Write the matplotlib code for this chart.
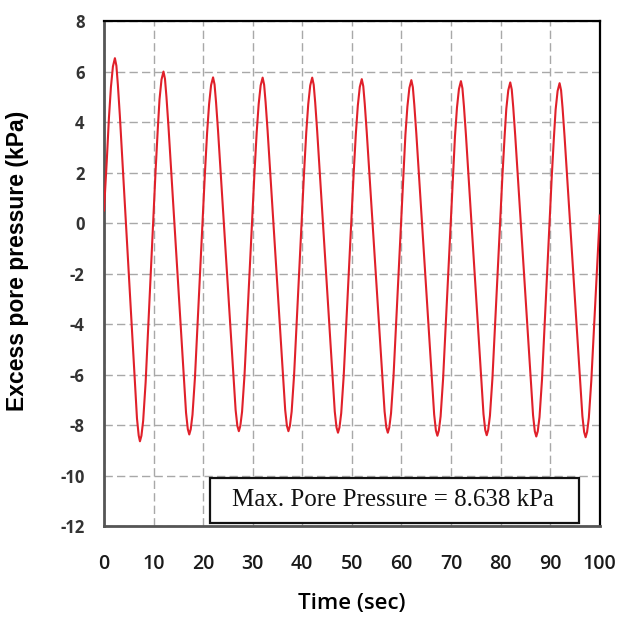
import matplotlib
matplotlib.use("Agg")
import matplotlib.pyplot as plt
from matplotlib.patches import Rectangle

plt.rcParams["axes.unicode_minus"] = False

# time (sec) and excess pore pressure (kPa)
time_sec = [
    0.0, 0.55, 1.0, 1.4, 1.8, 2.2,
    2.5, 2.8, 3.2, 6.15, 6.65, 7.0, 7.25,
    7.55, 7.9, 8.4, 10.4, 10.85, 11.2, 11.6, 12.0,
    12.3, 12.6, 13.0, 16.05, 16.55, 16.9, 17.2,
    17.5, 17.85, 18.35, 20.35, 20.8, 21.2, 21.6, 22.0,
    22.3, 22.6, 23.0, 26.05, 26.55, 26.9, 27.2,
    27.5, 27.85, 28.35, 30.35, 30.8, 31.2, 31.6, 32.0,
    32.3, 32.6, 33.0, 36.05, 36.55, 36.9, 37.2,
    37.5, 37.85, 38.35, 40.35, 40.8, 41.2, 41.6, 42.0,
    42.3, 42.6, 43.0, 46.05, 46.55, 46.9, 47.2,
    47.5, 47.85, 48.35, 50.35, 50.8, 51.2, 51.6, 52.0,
    52.3, 52.6, 53.0, 56.1, 56.6, 56.95, 57.25,
    57.55, 57.9, 58.4, 60.4, 60.8, 61.2, 61.6, 62.0,
    62.3, 62.6, 63.0, 66.1, 66.6, 66.95, 67.25,
    67.55, 67.9, 68.4, 70.4, 70.8, 71.2, 71.6, 72.0,
    72.3, 72.6, 73.0, 76.05, 76.55, 76.9, 77.2,
    77.5, 77.85, 78.35, 80.35, 80.8, 81.15, 81.55, 81.95,
    82.25, 82.55, 82.95, 86.05, 86.55, 86.9, 87.2,
    87.5, 87.85, 88.35, 90.3, 90.75, 91.1, 91.5, 91.9,
    92.2, 92.5, 92.9, 96.0, 96.5, 96.85, 97.15,
    97.45, 97.8, 98.3, 100.0,
]
pore_kpa = [
    0.5, 2.43, 4.18, 5.39, 6.20, 6.53,
    6.23, 5.47, 4.25, -6.06, -7.73, -8.41, -8.64,
    -8.42, -7.83, -6.30, 2.05, 3.73, 4.90, 5.68, 6.00,
    5.71, 4.99, 3.84, -5.93, -7.51, -8.15, -8.37,
    -8.16, -7.59, -6.11, 1.95, 3.58, 4.71, 5.46, 5.77,
    5.49, 4.79, 3.67, -5.86, -7.40, -8.03, -8.24,
    -8.03, -7.47, -6.00, 1.98, 3.59, 4.71, 5.45, 5.76,
    5.48, 4.78, 3.66, -5.86, -7.40, -8.03, -8.24,
    -8.03, -7.47, -6.00, 1.98, 3.59, 4.71, 5.45, 5.76,
    5.48, 4.78, 3.65, -5.91, -7.46, -8.09, -8.30,
    -8.09, -7.53, -6.06, 1.92, 3.53, 4.65, 5.39, 5.70,
    5.42, 4.72, 3.60, -5.92, -7.46, -8.09, -8.30,
    -8.09, -7.53, -6.07, 1.89, 3.50, 4.61, 5.35, 5.66,
    5.38, 4.67, 3.55, -6.03, -7.58, -8.21, -8.42,
    -8.21, -7.65, -6.17, 1.83, 3.44, 4.57, 5.31, 5.62,
    5.34, 4.64, 3.52, -6.02, -7.56, -8.19, -8.40,
    -8.19, -7.63, -6.16, 1.80, 3.40, 4.52, 5.26, 5.57,
    5.29, 4.59, 3.47, -6.07, -7.61, -8.24, -8.45,
    -8.24, -7.68, -6.21, 1.76, 3.37, 4.49, 5.23, 5.54,
    5.26, 4.56, 3.44, -6.10, -7.64, -8.27, -8.48,
    -8.27, -7.71, -6.24, 0.3,
]
x_ticks = [0, 10, 20, 30, 40, 50, 60, 70, 80, 90, 100]
y_ticks = [8, 6, 4, 2, 0, -2, -4, -6, -8, -10, -12]
note = "Max. Pore Pressure = 8.638 kPa"


fig = plt.figure(figsize=(6.28, 6.19), dpi=100)
ax = fig.add_axes([0.1656, 0.150, 0.7894, 0.816])

ax.plot(time_sec, pore_kpa, color="#e0202a", lw=1.5, zorder=3)

ax.set_xlim(0, 100)
ax.set_ylim(-12, 8)
ax.set_xticks(x_ticks)
ax.set_yticks(y_ticks)
ax.grid(True, color="#a8a8a8", lw=1.0, linestyle=(0, (6, 3)))
ax.tick_params(length=0)
ax.tick_params(axis="y", pad=14)
ax.tick_params(axis="x", pad=20)

for lab in ax.get_yticklabels():
    lab.set_fontfamily("Open Sans")
    lab.set_fontweight("bold")
    lab.set_fontsize(12)
    lab.set_color("#333333")
for lab in ax.get_xticklabels():
    lab.set_fontfamily("Open Sans")
    lab.set_fontweight("semibold")
    lab.set_fontsize(14)
    lab.set_color("#1a1a1a")

ax.set_xlabel("Time (sec)", family="Open Sans", weight="semibold", fontsize=16)
ax.set_ylabel("Excess pore pressure (kPa)", family="Liberation Sans", weight="bold", fontsize=16.5)
ax.xaxis.set_label_coords(0.5, -0.132)
ax.yaxis.set_label_coords(-0.152, 0.525)

for side in ["left", "bottom"]:
    ax.spines[side].set_color("#555555")
    ax.spines[side].set_linewidth(2.0)
for side in ["top", "right"]:
    ax.spines[side].set_color("black")
    ax.spines[side].set_linewidth(1.6)

box = Rectangle((0.2137, 0.006), 0.744, 0.089, transform=ax.transAxes,
                facecolor="white", edgecolor="#111111", lw=1.6, zorder=4)
ax.add_patch(box)
ax.text(0.582, 0.051, note, transform=ax.transAxes, ha="center", va="center",
        family="Liberation Serif", fontsize=18, color="#111111", zorder=5)

fig.savefig("out.png", dpi=100)
